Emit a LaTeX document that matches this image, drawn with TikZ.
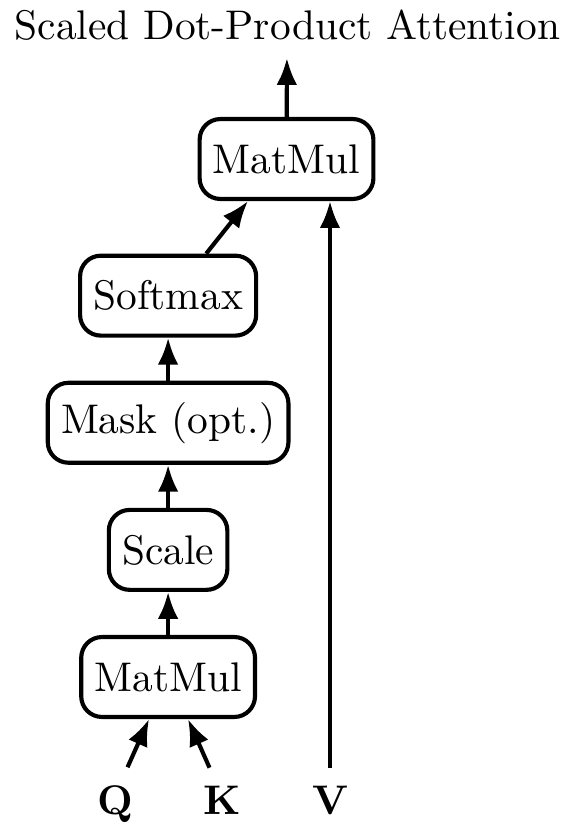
\documentclass[tikz,border=0pt]{standalone}
\usepackage{tikz}
\usetikzlibrary{arrows.meta}
\tikzset{>={Latex[width=5pt,length=6.5pt]}}
\tikzset{op/.style={draw, line width=1pt, rounded corners=5pt,
    minimum height=19.3pt, inner xsep=3.2pt}}

\begin{document}
\begin{tikzpicture}[line width=1pt]

  \useasboundingbox (0,0) rectangle (138.65pt,201.9pt);

  \newcommand\X{40.6pt}
  \newcommand\Y{30.7pt}

  % left column
  \node[op] (matmulA) at (\X, 38.4pt) {MatMul};
  \node[op] (scale)   at (\X, 38.4pt+1*\Y) {Scale};
  \node[op] (mask)    at (\X, 38.4pt+2*\Y) {Mask (opt.)};
  \node[op] (softmax) at (\X, 38.4pt+3*\Y) {Softmax};

  \node[op] (matmulB) at (69.2pt, 163.5pt) {MatMul};

  \node[anchor=base] (title) at (69.4pt, 192.3pt) {Scaled Dot-Product Attention};
  \coordinate (out) at (69.3pt, 187.9pt);

  % inputs
  \node[anchor=base] (q) at (27.8pt, 5.1pt) {\textbf{Q}};
  \node[anchor=base] (k) at (53.6pt, 5.1pt) {\textbf{K}};
  \node[anchor=base] (v) at (79.7pt, 5.1pt) {\textbf{V}};

  \draw[->] ([xshift=3pt,yshift=0.7pt]q.north) -- ([xshift=-4.6pt]matmulA.south);
  \draw[->] ([xshift=-3pt,yshift=0.7pt]k.north) -- ([xshift=4.8pt]matmulA.south);
  \draw[->] ([yshift=0.7pt]v.north) -- (v.north |- matmulB.south);

  \draw[->] (matmulA) -- (scale);
  \draw[->] (scale) -- (mask);
  \draw[->] (mask) -- (softmax);
  \draw[->] ([xshift=9.2pt]softmax.north) -- ([xshift=-9.3pt]matmulB.south);
  \draw[->] (matmulB) -- (out);

\end{tikzpicture}
\end{document}
